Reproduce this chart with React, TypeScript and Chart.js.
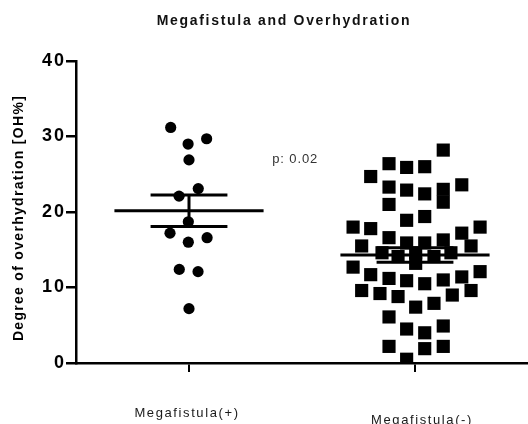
import React, { useEffect, useRef } from "react";
import { Chart, registerables } from "chart.js";

Chart.register(...registerables);

const chartTitle = "Megafistula and Overhydration";
const yAxisTitle = "Degree of overhydration [OH%]";
const categories = ["Megafistula(+)", "Megafistula(-)"];
const yTickValues = [0, 10, 20, 30, 40];
const pValueText = "p: 0.02";
const pValueAt = { x: 1.47, y: 26.9 };

// Megafistula(+) : category 1, x = category position + horizontal jitter of the dot plot
const posX = [0.919, 1.078, 0.996, 1.0, 1.041, 0.956, 0.997, 0.916, 1.08, 0.997, 0.957, 1.04, 1.0];
const posY = [31.2, 29.7, 29.0, 26.9, 23.1, 22.1, 18.7, 17.2, 16.6, 16.0, 12.4, 12.1, 7.2];

// Megafistula(-) : category 2
const negX = [
  2.125, 1.885, 1.963, 2.043, 1.804, 2.207, 1.885, 1.963, 2.043, 2.125, 1.885, 2.125,
  1.963, 2.043, 1.726, 1.804, 2.288, 2.207, 1.885, 1.764, 2.248, 1.963, 2.043, 2.125,
  1.854, 1.925, 2.003, 2.084, 2.159,
  2.003, 1.726, 2.288, 1.804, 1.885, 1.963, 2.043, 2.125, 2.207, 1.764, 2.248, 1.845,
  1.925, 2.165, 2.084, 2.003, 1.885, 1.963, 2.043, 2.125, 1.885, 2.043, 2.125, 1.963,
];
const negY = [
  28.2, 26.4, 25.9, 26.0, 24.7, 23.6, 23.3, 22.9, 22.4, 23.0, 21.0, 21.3,
  18.9, 19.4, 18.0, 17.8, 18.0, 17.2, 16.6, 15.5, 15.5, 15.9, 15.9, 16.3,
  14.6, 14.1, 14.6, 14.1, 14.6,
  13.2, 12.7, 12.1, 11.7, 11.2, 10.9, 10.5, 11.0, 11.4, 9.6, 9.6, 9.2,
  8.8, 9.0, 7.9, 7.4, 6.1, 4.5, 4.0, 4.9, 2.2, 1.9, 2.2, 0.5,
];

const FONT = '"Liberation Sans", Arial, sans-serif';

function stats(v: number[]) {
  const n = v.length;
  const m = v.reduce((a, b) => a + b, 0) / n;
  const sd = Math.sqrt(v.reduce((a, b) => a + (b - m) * (b - m), 0) / (n - 1));
  return { mean: m, sem: sd / Math.sqrt(n) };
}

function segmentsFor(center: number, values: number[]) {
  const { mean, sem } = stats(values);
  const meanHalf = 0.33;
  const capHalf = 0.17;
  return [
    [{ x: center - meanHalf, y: mean }, { x: center + meanHalf, y: mean }],
    [{ x: center - capHalf, y: mean + sem }, { x: center + capHalf, y: mean + sem }],
    [{ x: center - capHalf, y: mean - sem }, { x: center + capHalf, y: mean - sem }],
    [{ x: center, y: mean - sem }, { x: center, y: mean + sem }],
  ];
}

const textPlugin = {
  id: "textPlugin",
  beforeDraw(chart: any) {
    (chart.ctx as any).letterSpacing = "2px";
  },
  afterDraw(chart: any) {
    const { ctx, scales, chartArea } = chart;
    const xs = scales.x;
    const ys = scales.y;
    ctx.save();
    ctx.textAlign = "center";
    ctx.textBaseline = "middle";

    // title
    ctx.letterSpacing = "1.7px";
    ctx.fillStyle = "#111";
    ctx.font = `bold 14px ${FONT}`;
    ctx.fillText(chartTitle, 284, chartArea.top - 40);

    // y axis title
    ctx.save();
    ctx.letterSpacing = "1.3px";
    ctx.fillStyle = "#000";
    ctx.font = `bold 14px ${FONT}`;
    ctx.translate(chartArea.left - 57, (chartArea.top + chartArea.bottom) / 2 + 6);
    ctx.rotate(-Math.PI / 2);
    ctx.fillText(yAxisTitle, 0, 0);
    ctx.restore();

    // category labels
    ctx.letterSpacing = "1.6px";
    ctx.fillStyle = "#1a1a1a";
    ctx.font = `13px ${FONT}`;
    const offsets = [{ dx: -2, dy: 50 }, { dx: 7, dy: 57 }];
    categories.forEach((c, i) => {
      const px = xs.getPixelForValue(i + 1) + offsets[i].dx;
      ctx.fillText(c, px, chartArea.bottom + offsets[i].dy);
    });

    // p value
    ctx.letterSpacing = "0.9px";
    ctx.fillStyle = "#333";
    ctx.fillText(pValueText, xs.getPixelForValue(pValueAt.x), ys.getPixelForValue(pValueAt.y));
    ctx.restore();
    ctx.letterSpacing = "0px";
  },
};

export default function App() {
  const ref = useRef<HTMLCanvasElement | null>(null);
  useEffect(() => {
    if (!ref.current) return;
    const lineSets = [...segmentsFor(1, posY), ...segmentsFor(2, negY)].map((seg) => ({
      data: seg,
      showLine: true,
      borderColor: "#000",
      borderWidth: 3,
      pointRadius: 0,
      borderCapStyle: "butt" as const,
    }));
    const chart = new Chart(ref.current, {
      type: "scatter",
      data: {
        datasets: [
          ...lineSets,
          {
            data: posX.map((x, i) => ({ x, y: posY[i] })),
            pointStyle: "circle",
            pointRadius: 5.6,
            backgroundColor: "#000",
            borderWidth: 0,
          },
          {
            data: negX.map((x, i) => ({ x, y: negY[i] })),
            pointStyle: "rect",
            pointRadius: 9.3,
            backgroundColor: "#000",
            borderWidth: 0,
          },
        ],
      },
      options: {
        responsive: false,
        animation: false,
        layout: { autoPadding: false, padding: { top: 61, left: 0, right: 0, bottom: 0 } },
        plugins: {
          legend: { display: false },
          tooltip: { enabled: false },
          title: { display: false },
        },
        scales: {
          x: {
            type: "linear",
            min: 0.5,
            max: 2.5,
            afterBuildTicks: (s: any) => {
              s.ticks = categories.map((_, i) => ({ value: i + 1 }));
            },
            afterFit: (s: any) => {
              s.height = 61;
              s.paddingLeft = 0;
              s.paddingRight = 0;
            },
            ticks: { display: false },
            grid: {
              display: true,
              drawOnChartArea: false,
              drawTicks: true,
              tickLength: 9,
              color: "#000",
              lineWidth: 2,
            },
            border: { display: true, color: "#000", width: 2.5 },
          },
          y: {
            min: 0,
            max: 40,
            afterBuildTicks: (s: any) => {
              s.ticks = yTickValues.map((v) => ({ value: v }));
            },
            afterFit: (s: any) => {
              s.width = 76;
            },
            ticks: {
              color: "#000",
              padding: 0,
              font: { family: FONT, size: 18, weight: "bold" },
            },
            grid: {
              display: true,
              drawOnChartArea: false,
              drawTicks: true,
              tickLength: 10,
              color: "#000",
              lineWidth: 2.5,
            },
            border: { display: true, color: "#000", width: 2.5 },
            title: { display: false },
          },
        },
      },
      plugins: [textPlugin],
    });
    return () => chart.destroy();
  }, []);
  return (
    <div style={{ position: "fixed", left: 0, top: 0, width: 528, height: 424, background: "#fff" }}>
      <canvas ref={ref} width={528} height={424} />
    </div>
  );
}
